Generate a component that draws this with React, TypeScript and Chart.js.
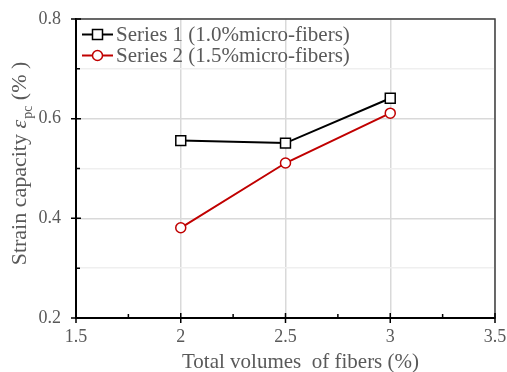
import React, { useEffect, useRef } from "react";
import { Chart, registerables } from "chart.js";

Chart.register(...registerables);

const xValues = [2, 2.5, 3];
const series1 = [0.556, 0.551, 0.641];
const series2 = [0.381, 0.511, 0.611];
const seriesLabels = ["Series 1 (1.0%micro-fibers)", "Series 2 (1.5%micro-fibers)"];
const xTitle = "Total volumes  of fibers (%)";
const yTitleMain = "Strain capacity ";
const yTitleSym = "\u03B5";
const yTitleSub = "pc";
const yTitleEnd = " (% )";

const FONT = "'Liberation Serif', 'Times New Roman', serif";
const TEXT = "#595959";

const isMajorX = (v: number) => Math.round(v * 4) % 2 === 0;
const isMajorY = (v: number) => Math.round(v * 10) % 2 === 0;

const decorPlugin = {
  id: "decor",
  afterDatasetsDraw(chart: any) {
    const { ctx, chartArea: a, scales } = chart;
    const xs = scales.x;
    const ys = scales.y;
    ctx.save();
    // top & right border
    ctx.strokeStyle = "#404040";
    ctx.lineWidth = 1.5;
    ctx.beginPath();
    ctx.moveTo(a.left, a.top);
    ctx.lineTo(a.right, a.top);
    ctx.lineTo(a.right, a.bottom);
    ctx.stroke();
    // ticks
    ctx.strokeStyle = "#000";
    ctx.lineWidth = 1.5;
    ctx.beginPath();
    xs.ticks.forEach((t: any) => {
      const px = xs.getPixelForValue(t.value);
      if (isMajorX(t.value)) {
        ctx.moveTo(px, a.bottom - 5);
        ctx.lineTo(px, a.bottom + 5);
      } else {
        ctx.moveTo(px, a.bottom - 4);
        ctx.lineTo(px, a.bottom);
      }
    });
    ys.ticks.forEach((t: any) => {
      const py = ys.getPixelForValue(t.value);
      if (isMajorY(t.value)) {
        ctx.moveTo(a.left - 5, py);
        ctx.lineTo(a.left + 5, py);
      } else {
        ctx.moveTo(a.left, py);
        ctx.lineTo(a.left + 4, py);
      }
    });
    ctx.stroke();

    // legend
    const ds = chart.data.datasets;
    ds.forEach((d: any, i: number) => {
      const y = a.top + 15.5 + i * 21;
      const x0 = a.left + 6;
      ctx.strokeStyle = d.borderColor;
      ctx.lineWidth = 2;
      ctx.beginPath();
      ctx.moveTo(x0, y);
      ctx.lineTo(x0 + 31, y);
      ctx.stroke();
      ctx.fillStyle = "#fff";
      ctx.lineWidth = 1.5;
      const cx = x0 + 15.5;
      ctx.beginPath();
      if (d.pointStyle === "rect") {
        ctx.rect(cx - 5, y - 5, 10, 10);
      } else {
        ctx.arc(cx, y, 5, 0, Math.PI * 2);
      }
      ctx.fill();
      ctx.stroke();
      ctx.fillStyle = TEXT;
      ctx.font = `21px ${FONT}`;
      ctx.textAlign = "left";
      ctx.textBaseline = "middle";
      ctx.fillText(d.label, x0 + 34, y + 1);
    });

    // x title
    ctx.fillStyle = TEXT;
    ctx.font = `21px ${FONT}`;
    ctx.textAlign = "center";
    ctx.textBaseline = "middle";
    ctx.fillText(xTitle, (a.left + a.right) / 2 + 15, a.bottom + 44);

    // y title
    ctx.translate(20, (a.top + a.bottom) / 2 - 5);
    ctx.rotate(-Math.PI / 2);
    ctx.textAlign = "left";
    ctx.textBaseline = "middle";
    const fMain = `22px ${FONT}`;
    const fIt = `italic 22px ${FONT}`;
    const fSub = `14px ${FONT}`;
    ctx.font = fMain;
    const w1 = ctx.measureText(yTitleMain).width;
    const w4 = ctx.measureText(yTitleEnd).width;
    ctx.font = fIt;
    const w2 = ctx.measureText(yTitleSym).width;
    ctx.font = fSub;
    const w3 = ctx.measureText(yTitleSub).width;
    let x = -(w1 + w2 + w3 + w4 + 1) / 2;
    ctx.font = fMain;
    ctx.fillText(yTitleMain, x, 0);
    x += w1;
    ctx.font = fIt;
    ctx.fillText(yTitleSym, x, 0);
    x += w2 + 1;
    ctx.font = fSub;
    ctx.fillText(yTitleSub, x, 8);
    x += w3;
    ctx.font = fMain;
    ctx.fillText(yTitleEnd, x, 0);
    ctx.restore();
  },
};

export default function App() {
  const ref = useRef<HTMLCanvasElement>(null);
  useEffect(() => {
    document.body.style.margin = "0";
    const chart = new Chart(ref.current!, {
      type: "line",
      data: {
        datasets: [
          {
            label: seriesLabels[0],
            data: xValues.map((x, i) => ({ x, y: series1[i] })),
            borderColor: "#000000",
            backgroundColor: "#ffffff",
            borderWidth: 2,
            pointStyle: "rect",
            pointRadius: 7,
            pointBorderWidth: 1.5,
            pointBackgroundColor: "#ffffff",
          },
          {
            label: seriesLabels[1],
            data: xValues.map((x, i) => ({ x, y: series2[i] })),
            borderColor: "#c00000",
            backgroundColor: "#ffffff",
            borderWidth: 2,
            pointStyle: "circle",
            pointRadius: 5,
            pointBorderWidth: 1.5,
            pointBackgroundColor: "#ffffff",
          },
        ],
      },
      options: {
        animation: false,
        responsive: false,
        layout: { padding: { top: 19, right: 12, left: 0, bottom: 0 } },
        plugins: { legend: { display: false }, tooltip: { enabled: false } },
        scales: {
          x: {
            type: "linear",
            min: 1.5,
            max: 3.5,
            afterFit: (s: any) => {
              s.height = 54;
              s.paddingLeft = 0;
              s.paddingRight = 0;
            },
            ticks: {
              stepSize: 0.25,
              autoSkip: false,
              maxRotation: 0,
              padding: 8,
              color: TEXT,
              font: { family: FONT, size: 18 },
              callback: (v: any) => (isMajorX(Number(v)) ? String(Number(v)) : ""),
            },
            grid: {
              drawTicks: false,
              color: (c: any) => (isMajorX(c.tick.value) ? "#d9d9d9" : "rgba(0,0,0,0)"),
              lineWidth: 1.5,
            },
            border: { display: true, color: "#000", width: 2 },
          },
          y: {
            type: "linear",
            min: 0.2,
            max: 0.8,
            afterFit: (s: any) => {
              s.width = 76;
              s.paddingTop = 0;
              s.paddingBottom = 0;
            },
            ticks: {
              stepSize: 0.1,
              autoSkip: false,
              padding: 15,
              color: TEXT,
              font: { family: FONT, size: 18 },
              callback: (v: any) => (isMajorY(Number(v)) ? Number(v).toFixed(1) : ""),
            },
            grid: {
              drawTicks: false,
              color: (c: any) => (isMajorY(c.tick.value) ? "#d9d9d9" : "#efefef"),
              lineWidth: 1.5,
            },
            border: { display: true, color: "#000", width: 2 },
          },
        },
      },
      plugins: [decorPlugin],
    } as any);
    return () => chart.destroy();
  }, []);
  return <canvas ref={ref} width={507} height={372} style={{ display: "block" }} />;
}
